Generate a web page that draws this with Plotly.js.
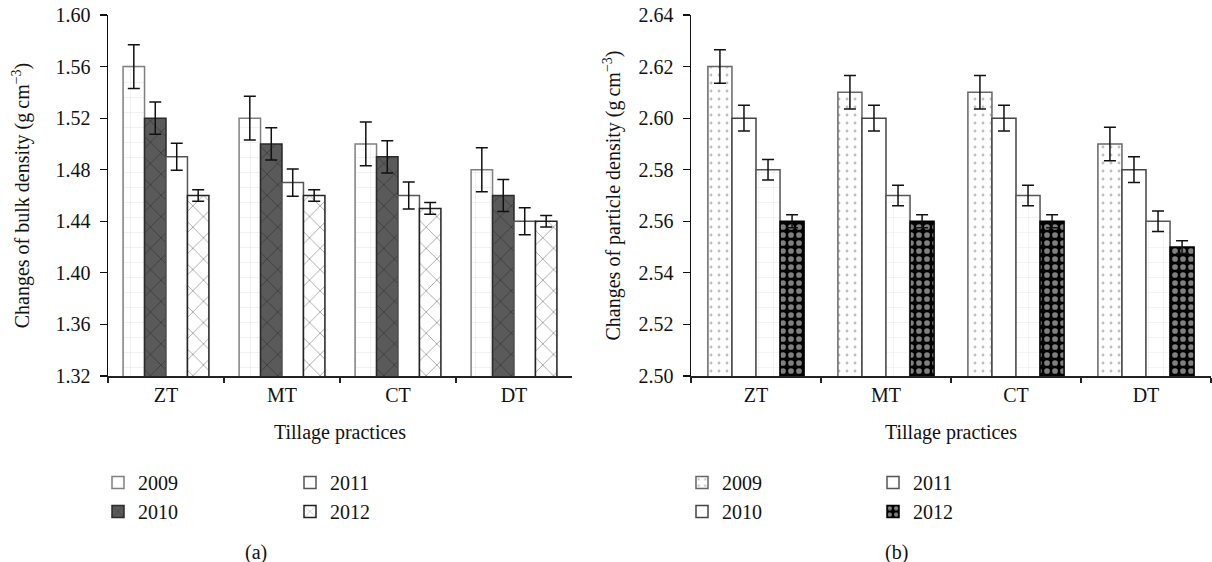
<!DOCTYPE html>
<html>
<head>
<meta charset="utf-8">
<script src="https://cdn.plot.ly/plotly-3.0.1.min.js"></script>
<style>html,body{margin:0;padding:0;background:#fff;}#chart{width:1212px;height:562px;}</style>
</head>
<body>
<div id="chart"></div>
<script>
// ---- data ----
const categories = ['ZT', 'MT', 'CT', 'DT'];
const years = ['2009', '2010', '2011', '2012'];

// (a) bulk density, g cm^-3
const bulk2009 = [1.56, 1.52, 1.50, 1.48];
const bulk2010 = [1.52, 1.50, 1.49, 1.46];
const bulk2011 = [1.49, 1.47, 1.46, 1.44];
const bulk2012 = [1.46, 1.46, 1.45, 1.44];
const bulkErr2009 = [0.017, 0.017, 0.017, 0.017];
const bulkErr2010 = [0.0125, 0.0125, 0.0125, 0.0125];
const bulkErr2011 = [0.0105, 0.0105, 0.0105, 0.0105];
const bulkErr2012 = [0.0045, 0.0045, 0.0045, 0.0045];

// (b) particle density, g cm^-3
const part2009 = [2.62, 2.61, 2.61, 2.59];
const part2010 = [2.60, 2.60, 2.60, 2.58];
const part2011 = [2.58, 2.57, 2.57, 2.56];
const part2012 = [2.56, 2.56, 2.56, 2.55];
const partErr2009 = [0.0065, 0.0065, 0.0065, 0.0065];
const partErr2010 = [0.005, 0.005, 0.005, 0.005];
const partErr2011 = [0.004, 0.004, 0.004, 0.004];
const partErr2012 = [0.0025, 0.0025, 0.0025, 0.0025];

const bulkTicks = [1.32, 1.36, 1.40, 1.44, 1.48, 1.52, 1.56, 1.60];
const partTicks = [2.50, 2.52, 2.54, 2.56, 2.58, 2.60, 2.62, 2.64];

// ---- styling ----
const FONT = 'Liberation Serif, Times New Roman, serif';
const FS = 20;
const W = 1212, H = 562;
const px = v => v / W;
const py = v => 1 - v / H;

function bar(x, y, err, name, xa, ya, leg, grp, style) {
  return {
    type: 'bar', x: x, y: y, name: name, xaxis: xa, yaxis: ya,
    legend: leg, legendgroup: grp,
    marker: {
      color: style.bg,
      line: {color: style.line, width: 1.5},
      pattern: style.pattern ? Object.assign({fillmode: 'overlay'}, style.pattern) : undefined
    },
    error_y: {type: 'data', array: err, visible: true, color: '#111', thickness: 1.5, width: 6},
    hoverinfo: 'x+y+name'
  };
}

const traces = [
  bar(categories, bulk2009, bulkErr2009, years[0], 'x', 'y', 'legend', 'a1',
      {bg: '#ffffff', line: '#808080', pattern: {shape: '+', size: 15, solidity: 0.07, fgcolor: '#cccccc'}}),
  bar(categories, bulk2010, bulkErr2010, years[1], 'x', 'y', 'legend', 'a2',
      {bg: '#5a5a5a', line: '#2a2a2a', pattern: {shape: 'x', size: 15, solidity: 0.09, fgcolor: '#111111'}}),
  bar(categories, bulk2011, bulkErr2011, years[2], 'x', 'y', 'legend2', 'a3',
      {bg: '#ffffff', line: '#555555'}),
  bar(categories, bulk2012, bulkErr2012, years[3], 'x', 'y', 'legend2', 'a4',
      {bg: '#ffffff', line: '#222222', pattern: {shape: 'x', size: 15, solidity: 0.09, fgcolor: '#111111'}}),

  bar(categories, part2009, partErr2009, years[0], 'x2', 'y2', 'legend3', 'b1',
      {bg: '#ffffff', line: '#666666', pattern: {shape: '.', size: 8, solidity: 0.1, fgcolor: '#808080'}}),
  bar(categories, part2010, partErr2010, years[1], 'x2', 'y2', 'legend3', 'b2',
      {bg: '#ffffff', line: '#444444'}),
  bar(categories, part2011, partErr2011, years[2], 'x2', 'y2', 'legend4', 'b3',
      {bg: '#ffffff', line: '#555555', pattern: {shape: '+', size: 15, solidity: 0.07, fgcolor: '#d5d5d5'}}),
  bar(categories, part2012, partErr2012, years[3], 'x2', 'y2', 'legend4', 'b4',
      {bg: '#000000', line: '#000000', pattern: {shape: '.', size: 8, solidity: 0.4, fgcolor: '#ffffff'}})
];

const xBase = {
  type: 'category', showline: true, linecolor: '#222', linewidth: 1.5,
  ticks: 'outside', tickson: 'boundaries', ticklen: 5, tickwidth: 1.2, tickcolor: '#222',
  showgrid: false, zeroline: false, automargin: false,
  tickfont: {family: FONT, size: FS, color: '#111'},
  title: {text: 'Tillage practices', font: {family: FONT, size: FS, color: '#111'}, standoff: 20}
};
const yBase = {
  showline: true, linecolor: '#111', linewidth: 1.5,
  ticks: 'outside', ticklen: 7, tickwidth: 1.2, tickcolor: '#111', ticklabelstandoff: 5,
  showgrid: false, zeroline: false, automargin: false, tickformat: '.2f',
  tickfont: {family: FONT, size: FS, color: '#111'}
};

const legBase = {orientation: 'v', xanchor: 'left', yanchor: 'top', bgcolor: 'rgba(0,0,0,0)',
  font: {family: FONT, size: FS, color: '#111'}, tracegroupgap: 0, itemclick: false, itemdoubleclick: false};

const layout = {
  width: W, height: H,
  margin: {l: 0, r: 0, t: 0, b: 0},
  paper_bgcolor: '#fff', plot_bgcolor: '#fff',
  barmode: 'group', bargap: 0.26, bargroupgap: 0,
  showlegend: true,
  xaxis: Object.assign({}, xBase, {domain: [px(108), px(572)], anchor: 'y'}),
  yaxis: Object.assign({}, yBase, {domain: [py(376), py(15)], anchor: 'x',
    range: [1.32, 1.60], tickvals: bulkTicks,
    title: {text: 'Changes of bulk density (g\u2009cm<sup>\u22123</sup>)', font: {family: FONT, size: FS, color: '#111'}, standoff: 20}}),
  xaxis2: Object.assign({}, xBase, {domain: [px(691), px(1211)], anchor: 'y2'}),
  yaxis2: Object.assign({}, yBase, {domain: [py(376), py(15)], anchor: 'x2',
    range: [2.50, 2.64], tickvals: partTicks,
    title: {text: 'Changes of particle density (g\u2009cm<sup>\u22123</sup>)', font: {family: FONT, size: FS, color: '#111'}, standoff: 12}}),
  legend: Object.assign({}, legBase, {x: px(98), y: py(463)}),
  legend2: Object.assign({}, legBase, {x: px(290), y: py(463)}),
  legend3: Object.assign({}, legBase, {x: px(682), y: py(463)}),
  legend4: Object.assign({}, legBase, {x: px(873), y: py(463)}),
  annotations: [
    {text: '(a)', x: px(256), y: py(552), xref: 'paper', yref: 'paper', showarrow: false,
     xanchor: 'center', yanchor: 'middle', font: {family: FONT, size: FS, color: '#111'}},
    {text: '(b)', x: px(896), y: py(552), xref: 'paper', yref: 'paper', showarrow: false,
     xanchor: 'center', yanchor: 'middle', font: {family: FONT, size: FS, color: '#111'}}
  ]
};

Plotly.newPlot('chart', traces, layout, {staticPlot: true, displayModeBar: false});
</script>
</body>
</html>
